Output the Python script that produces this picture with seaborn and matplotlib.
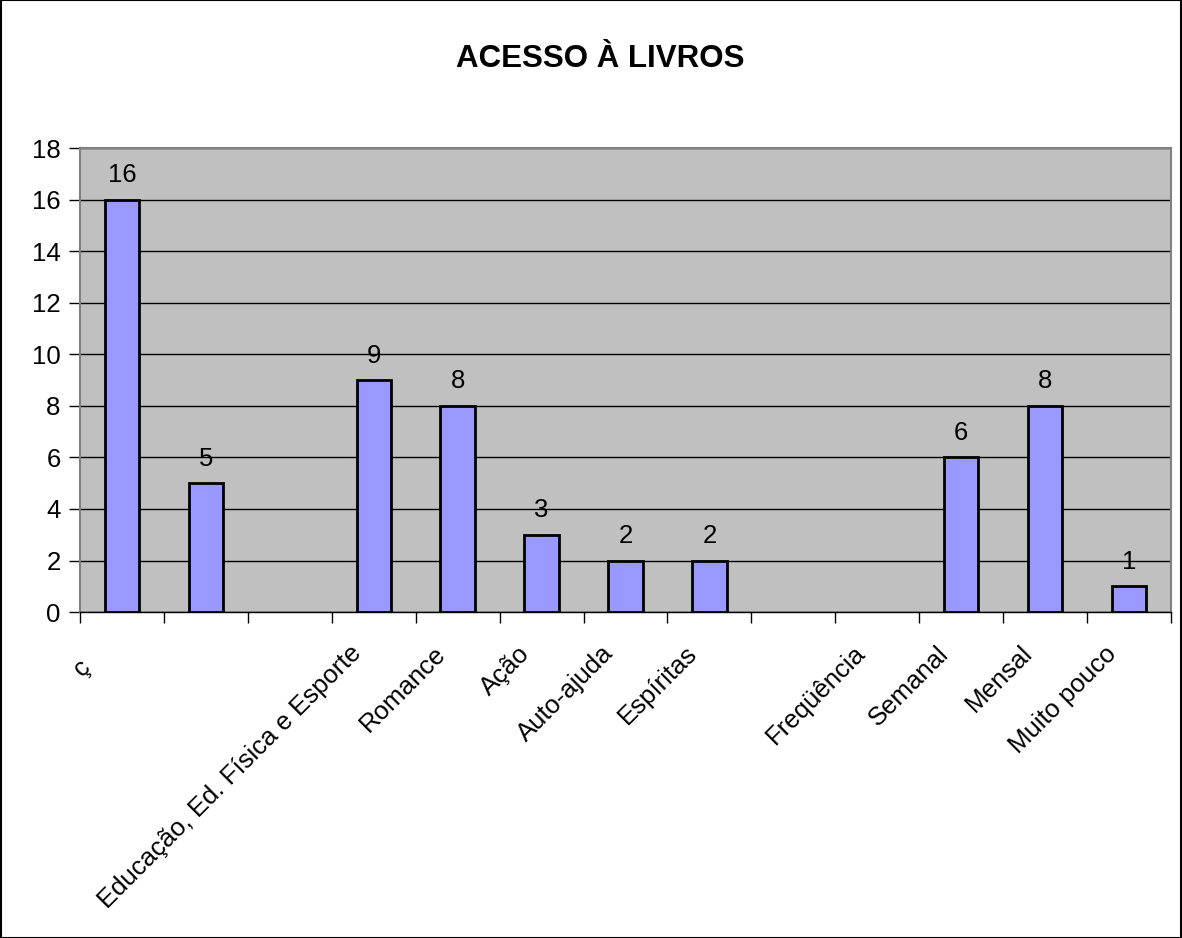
import matplotlib
matplotlib.use("Agg")
import matplotlib.pyplot as plt
import matplotlib.patches as mpatches
import matplotlib.transforms as mtransforms
from matplotlib.ticker import FixedLocator
import numpy as np
import pandas as pd
import seaborn as sns

# Slots along the category axis (empty slots are section headers)
slot_labels = ["", "", "", "Educação, Ed. Física e Esporte", "Romance", "Ação",
               "Auto-ajuda", "Espíritas", "", "Freqüência", "Semanal", "Mensal",
               "Muito pouco"]
counts = [16, 5, np.nan, 9, 8, 3, 2, 2, np.nan, np.nan, 6, 8, 1]
y_ticks = [0, 2, 4, 6, 8, 10, 12, 14, 16, 18]
title = "ACESSO À LIVROS"
clipped_label = "ç"

sns.set_theme(style="white")
plt.rcParams["font.family"] = ["Liberation Sans", "DejaVu Sans"]
plt.rcParams["text.color"] = "black"
plt.rcParams["xtick.color"] = "black"
plt.rcParams["ytick.color"] = "black"
plt.rcParams["axes.labelcolor"] = "black"

FS = 18.5

df = pd.DataFrame({"slot": list(range(len(counts))), "count": counts})

fig = plt.figure(figsize=(11.82, 9.38), dpi=100)
ax = fig.add_axes([0.0677, 0.3475, 0.923, 0.4945])
ax.set_facecolor("#C0C0C0")

sns.barplot(data=df, x="slot", y="count", order=list(range(len(counts))),
            color="#9999FF", saturation=1, width=0.41, edgecolor="black",
            linewidth=2, ax=ax, zorder=3)

ax.set_ylim(0, 18)
ax.set_xlim(-0.5, len(counts) - 0.5)
ax.set_yticks(y_ticks)
ax.set_yticklabels([str(v) for v in y_ticks], fontsize=FS)
ax.yaxis.grid(True, color="black", linewidth=1)
ax.set_axisbelow(True)
for gl in ax.get_ygridlines():
    gl.set_zorder(1)

# value labels above bars
for cont in ax.containers:
    labels = ["" if np.isnan(v) else f"{int(v)}" for v in cont.datavalues]
    ax.bar_label(cont, labels=labels, padding=9, fontsize=FS, zorder=4)

# category labels at slot centres, tick marks at slot boundaries
ax.set_xticks(range(len(counts)))
ax.tick_params(axis="x", which="major", length=0, pad=25)
ax.xaxis.set_minor_locator(FixedLocator(np.arange(-0.5, len(counts), 1.0)))
ax.tick_params(axis="x", which="minor", length=8, width=1, color="black",
               direction="out", bottom=True)
ax.tick_params(axis="y", which="major", length=8, width=1, color="black",
               direction="out", left=True, pad=6)
ax.set_xticklabels(slot_labels, rotation=45, ha="right", va="center",
                   rotation_mode="anchor", fontsize=FS)
label_shift = mtransforms.ScaledTranslation(-16 / 100, -3 / 100,
                                            fig.dpi_scale_trans)
for lbl in ax.get_xticklabels():
    lbl.set_transform(lbl.get_transform() + label_shift)

# truncated first-category label sitting at the left edge
trans = mtransforms.blended_transform_factory(ax.transData, fig.transFigure)
ax.text(-0.48, 0.288, clipped_label, transform=trans, rotation=45,
        ha="center", va="center", fontsize=FS)

ax.set_xlabel("")
ax.set_ylabel("")

ax.spines["bottom"].set_color("black")
ax.spines["bottom"].set_linewidth(1)
for side in ["top", "right", "left"]:
    ax.spines[side].set_color("#808080")
    ax.spines[side].set_linewidth(1.5)

fig.text(0.508, 0.937, title, ha="center", va="center", fontsize=22.5,
         fontweight="bold")

# outer chart frame
fig.patches.append(mpatches.Rectangle((0.0005, 0.0005), 0.999, 0.999,
                                      transform=fig.transFigure, fill=False,
                                      edgecolor="black", linewidth=1.5))

fig.savefig("out.png", dpi=100, facecolor="white")
